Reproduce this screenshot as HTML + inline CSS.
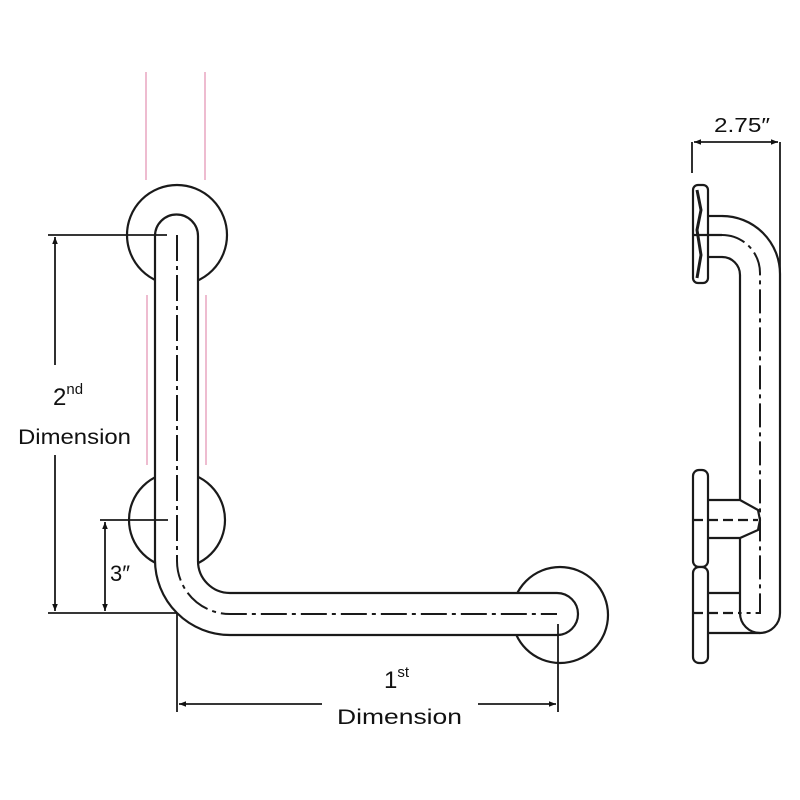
<!DOCTYPE html>
<html><head><meta charset="utf-8"><style>
html,body{margin:0;padding:0;background:#fff;width:800px;height:800px;overflow:hidden}
text{font-family:"Liberation Sans","DejaVu Sans",sans-serif;fill:#111}
</style></head><body>
<svg width="800" height="800" viewBox="0 0 800 800" xmlns="http://www.w3.org/2000/svg">
<defs>
<marker id="ar" viewBox="0 0 10 10" refX="10" refY="5" markerWidth="12" markerHeight="7" orient="auto-start-reverse" markerUnits="userSpaceOnUse">
<path d="M0,1 L10,5 L0,9 z" fill="#111"/></marker>
</defs>
<g stroke="#e8a6c0" stroke-width="1.5">
<line x1="146" y1="72" x2="146" y2="180"/><line x1="205" y1="72" x2="205" y2="180"/>
<line x1="147" y1="295" x2="147" y2="465"/><line x1="206" y1="295" x2="206" y2="465"/>
</g>
<g fill="none" stroke="#1a1a1a" stroke-width="2.2">
<circle cx="177" cy="235" r="50" fill="#fff"/>
<circle cx="177" cy="520" r="48" fill="#fff"/>
<circle cx="560" cy="615" r="48" fill="#fff"/>
<path d="M155,236 L155,560 A75,75 0 0 0 230,635 L557,635 A21,21 0 0 0 557,593 L230,593 A32,32 0 0 1 198,561 L198,236 A21.5,21.5 0 0 0 155,236 Z" fill="#fff"/>
<path d="M177,235 L177,561 A53,53 0 0 0 230,614 L557,614" stroke-dasharray="26 5 4 5" stroke-width="2"/>
<line x1="48" y1="235" x2="167" y2="235" stroke-width="1.8"/>
<line x1="48" y1="613" x2="177" y2="613" stroke-width="1.8"/>
<line x1="55" y1="365" x2="55" y2="237" stroke-width="1.8" marker-end="url(#ar)"/>
<line x1="55" y1="455" x2="55" y2="611" stroke-width="1.8" marker-end="url(#ar)"/>
<line x1="100" y1="520" x2="168" y2="520" stroke-width="1.8"/>
<line x1="105" y1="522" x2="105" y2="611" stroke-width="1.8" marker-start="url(#ar)" marker-end="url(#ar)"/>
<line x1="177" y1="613" x2="177" y2="712" stroke-width="1.8"/>
<line x1="558" y1="624" x2="558" y2="712" stroke-width="1.8"/>
<line x1="322" y1="704" x2="179" y2="704" stroke-width="1.8" marker-end="url(#ar)"/>
<line x1="478" y1="704" x2="556" y2="704" stroke-width="1.8" marker-end="url(#ar)"/>
<line x1="692" y1="173" x2="692" y2="142" stroke-width="1.8"/>
<line x1="780" y1="142" x2="780" y2="280" stroke-width="1.8"/>
<line x1="694" y1="142" x2="778" y2="142" stroke-width="1.8" marker-start="url(#ar)" marker-end="url(#ar)"/>
<rect x="693" y="185" width="15" height="98" rx="5" fill="#fff"/>
<path d="M697,190 L701,210 L697,230 L701,255 L697,278" stroke-width="3"/>
<line x1="708" y1="216" x2="722" y2="216"/><line x1="708" y1="257" x2="722" y2="257"/>
<line x1="693" y1="235" x2="722" y2="235"/>
<path d="M722,216 A58,58 0 0 1 780,274 L780,613 A20,20 0 0 1 740,613 L740,538"/>
<path d="M722,257 A18,18 0 0 1 740,275 L740,500"/>
<path d="M722,235 A38,38 0 0 1 760,273 L760,613 L740,613" stroke-dasharray="24 5 4 5" stroke-width="2"/>
<rect x="693" y="470" width="15" height="97" rx="6" fill="#fff"/>
<rect x="693" y="567" width="15" height="96" rx="6" fill="#fff"/>
<path d="M708,500 L740,500 L758,510 L760,520 L758,530 L740,538 L708,538"/>
<line x1="693" y1="520" x2="758" y2="520" stroke-dasharray="10 5"/>
<line x1="708" y1="593" x2="740" y2="593"/>
<line x1="708" y1="633" x2="760" y2="633"/>
<line x1="693" y1="613" x2="740" y2="613" stroke-dasharray="10 5"/>
</g>
<text x="53" y="405" font-size="24">2<tspan font-size="15" dy="-11">nd</tspan></text>
<text x="18" y="444" font-size="21" textLength="113" lengthAdjust="spacingAndGlyphs">Dimension</text>
<text x="110" y="581" font-size="22">3″</text>
<text x="384" y="688" font-size="24">1<tspan font-size="15" dy="-11">st</tspan></text>
<text x="337" y="724" font-size="21" textLength="125" lengthAdjust="spacingAndGlyphs">Dimension</text>
<text x="714" y="132" font-size="20" textLength="56" lengthAdjust="spacingAndGlyphs">2.75″</text>
</svg>
</body></html>
